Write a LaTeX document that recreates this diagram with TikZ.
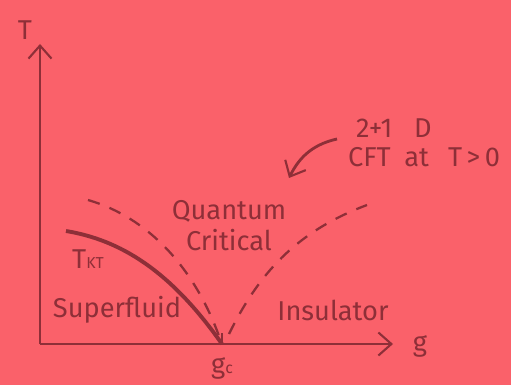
\documentclass[tikz,border=0pt]{standalone}
\usepackage{fontspec}
\setmainfont{Fira Sans}
\usepackage{tikz}
\usetikzlibrary{arrows.meta,positioning}
\definecolor{salmon}{HTML}{FA616A}
\definecolor{inkred}{HTML}{8E2F38}
\tikzset{
  >={Straight Barb[length=2.6mm,width=4.6mm,line width=1.2pt]},
  % achsen
  ax/.style={->,draw=inkred,line width=1.3pt},
  lbl/.style={text=inkred,font=\fontsize{15.5}{18}\selectfont,inner sep=1pt},
  % linien
  tkt/.style={draw=inkred,line width=2.2pt},
  cross/.style={draw=inkred,line width=1.3pt,dash pattern=on 7pt off 6pt},
  hint/.style={->,draw=inkred,line width=1.6pt},
}
\begin{document}
\begin{tikzpicture}[x=0.02cm,y=-0.02cm]
  \useasboundingbox (0,0) rectangle (511,385);
  \fill[salmon] (0,0) rectangle (511,385);
  \coordinate (o) at (40,344);
  \coordinate (ytop) at (40,44);
  \coordinate (xend) at (393,344);
  \coordinate (gc) at (222,344);
  \coordinate (gctop) at (222,333);
  \coordinate (kt0) at (66,231);
  \coordinate (dl0) at (88,200);
  \coordinate (dl1) at (219,336);
  \coordinate (dr0) at (229,334);
  \coordinate (dr1) at (367,205);
  \coordinate (ha) at (337,139);
  \coordinate (hb) at (289,178);
  \node[lbl] (tlab) at (25,30) {T};
  \node[lbl] (glab) at (420,346) {g};
  \node[lbl] (gclab) at (222,368) {g{\small c}};
  \node[lbl] (ktlab) at (88,259) {T{\small KT}};
  \node[lbl] (sf) at (117,310) {Superfluid};
  \node[lbl] (ins) at (333,310) {Insulator};
  \node[lbl] (qu) at (229,211) {Quantum};
  \node[lbl] (cr) at (229,240) {Critical};
  \node[lbl,anchor=west] (dim) at (354,128) {2+1\hspace{0.8em}D};
  \node[lbl,anchor=west] (cft) at (346,157) {CFT\hspace{0.5em}at\hspace{0.7em}T\,>\,0};
  \draw[ax] (o) -- (ytop);
  \draw[ax] (o) -- (xend);
  \draw[draw=inkred,line width=1.3pt] (gc) -- (gctop);
  \draw[tkt] (kt0) .. controls (120,240) and (170,270) .. (gc);
  \draw[cross] (dl0) .. controls (150,218) and (195,270) .. (dl1);
  \draw[cross] (dr0) .. controls (258,275) and (295,232) .. (dr1);
  \draw[hint] (ha) .. controls (310,145) and (298,160) .. (hb);
\end{tikzpicture}
\end{document}
